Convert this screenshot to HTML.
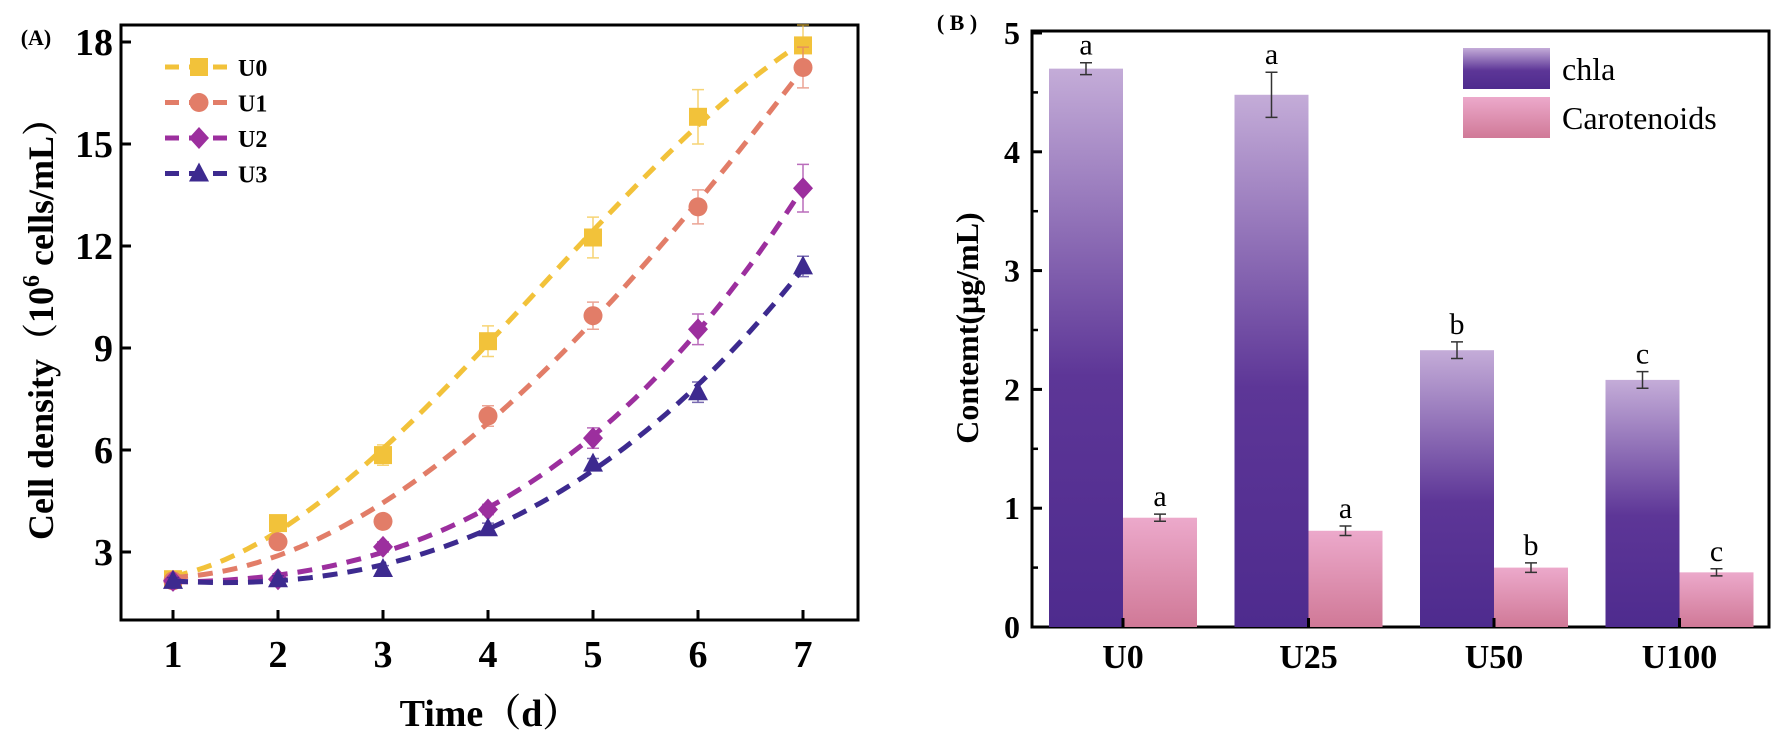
<!DOCTYPE html>
<html><head><meta charset="utf-8"><style>
html,body{margin:0;padding:0;background:#fff;}
svg{display:block;}
.tk{font-family:"Liberation Serif",serif;font-weight:bold;}
</style></head><body>
<svg id="root" width="1783" height="745" viewBox="0 0 1783 745" xmlns="http://www.w3.org/2000/svg">
<defs>
<linearGradient id="gChla" x1="0" y1="0" x2="0" y2="1"><stop offset="0" stop-color="#c4acd8"/><stop offset="0.55" stop-color="#5d3697"/><stop offset="1" stop-color="#4e2b8e"/></linearGradient>
<linearGradient id="gCar" x1="0" y1="0" x2="0" y2="1"><stop offset="0" stop-color="#eca9cb"/><stop offset="1" stop-color="#d07997"/></linearGradient>
</defs>
<g id="panelA"></g>
<g id="panelB"></g>
</svg>
<script>
// ---- Panel A data ----
const days = [1,2,3,4,5,6,7];
const seriesNames = ['U0','U1','U2','U3'];
const u0 = [2.2,3.85,5.85,9.2,12.25,15.8,17.9];
const u1 = [2.15,3.3,3.9,7.0,9.95,13.15,17.25];
const u2 = [2.15,2.2,3.15,4.25,6.35,9.55,13.7];
const u3 = [2.15,2.2,2.5,3.7,5.6,7.7,11.4];
const u0Err = [0.1,0.15,0.3,0.45,0.6,0.8,0.6];
const u1Err = [0.1,0.15,0.15,0.3,0.4,0.5,0.6];
const u2Err = [0.1,0.1,0.15,0.15,0.3,0.45,0.7];
const u3Err = [0.1,0.1,0.1,0.15,0.15,0.3,0.3];
const yTicksA = [3,6,9,12,15,18];
// ---- Panel B data ----
const groups = ['U0','U25','U50','U100'];
const chla = [4.7,4.48,2.33,2.08];
const chlaErr = [0.05,0.19,0.07,0.07];
const chlaSig = ['a','a','b','c'];
const carot = [0.92,0.81,0.50,0.46];
const carotErr = [0.03,0.04,0.04,0.03];
const carotSig = ['a','a','b','c'];
const yTicksB = [0,1,2,3,4,5];

const NS='http://www.w3.org/2000/svg';
function mk(parent,tag,attrs,text){const e=document.createElementNS(NS,tag);for(const k in attrs)e.setAttribute(k,attrs[k]);if(text!==undefined)e.textContent=text;parent.appendChild(e);return e;}

// polynomial least squares fit (degree 3)
function polyfit(xs,ys,deg){
  const n=deg+1;const M=[];for(let i=0;i<n;i++){M.push(new Array(n+1).fill(0));}
  for(let k=0;k<xs.length;k++){for(let i=0;i<n;i++){for(let j=0;j<n;j++)M[i][j]+=Math.pow(xs[k],i+j);M[i][n]+=ys[k]*Math.pow(xs[k],i);}}
  for(let i=0;i<n;i++){let p=i;for(let r=i+1;r<n;r++)if(Math.abs(M[r][i])>Math.abs(M[p][i]))p=r;[M[i],M[p]]=[M[p],M[i]];
    for(let r=0;r<n;r++){if(r===i)continue;const f=M[r][i]/M[i][i];for(let c=i;c<=n;c++)M[r][c]-=f*M[i][c];}}
  return M.map((row,i)=>row[n]/row[i]);
}

// ===== Panel A =====
const A=document.getElementById('panelA');
const aL=121,aR=858,aT=25,aB=620;
const xA=v=>173+105*(v-1);
const yA=v=>552-(v-3)*34.0;
const colors=['#f2c23a','#e27d68','#9c2f9e','#3d2a8f'];
const allY=[u0,u1,u2,u3], allE=[u0Err,u1Err,u2Err,u3Err];
const box=mk(A,'rect',{x:aL,y:aT,width:aR-aL,height:aB-aT,fill:'none',stroke:'#000','stroke-width':3});

yTicksA.forEach(t=>{
  const l=mk(A,'line',{x1:aL,x2:aL+10,y1:yA(t),y2:yA(t),stroke:'#000','stroke-width':3});
  
  const tx=mk(A,'text',{x:aL-8,y:yA(t)+13,'text-anchor':'end','font-size':38,class:'tk'},String(t));
  
});
days.forEach(d=>{
  const l=mk(A,'line',{x1:xA(d),x2:xA(d),y1:aB,y2:aB-10,stroke:'#000','stroke-width':3});
  
  const tx=mk(A,'text',{x:xA(d),y:667,'text-anchor':'middle','font-size':38,class:'tk'},String(d));
  
});
const xt=mk(A,'text',{x:490,y:726,'text-anchor':'middle','font-size':38,class:'tk'},'Time（d）');

xt.setAttribute('style','font-family:"Liberation Serif","Noto Serif CJK SC",serif');
const yt=mk(A,'text',{x:0,y:0,'text-anchor':'middle','font-size':36,class:'tk',transform:'translate(53,320) rotate(-90)'});

yt.setAttribute('style','font-family:"Liberation Serif","Noto Serif CJK SC",serif');
yt.innerHTML='Cell density（10<tspan dy="-14" font-size="24">6</tspan><tspan dy="14"> cells/mL）</tspan>';
const lbA=mk(A,'text',{x:36,y:45,'text-anchor':'middle','font-size':22,class:'tk'},'(A)');


function marker(g,i,x,y,c){
  let m;
  if(i===0)m=mk(g,'rect',{x:x-9,y:y-9,width:18,height:18,fill:c});
  else if(i===1)m=mk(g,'circle',{cx:x,cy:y,r:9.5,fill:c});
  else if(i===2)m=mk(g,'polygon',{points:`${x},${y-11} ${x+10},${y} ${x},${y+11} ${x-10},${y}`,fill:c});
  else m=mk(g,'polygon',{points:`${x},${y-11} ${x+10},${y+8} ${x-10},${y+8}`,fill:c});
  return m;
}
allY.forEach((vals,i)=>{
  const g=mk(A,'g',{});
  
  const co=polyfit(days,vals,3);
  let d='';
  for(let s=0;s<=60;s++){const xv=1+6*s/60;const yv=co[0]+co[1]*xv+co[2]*xv*xv+co[3]*xv*xv*xv;d+=(s?'L':'M')+xA(xv).toFixed(1)+','+yA(yv).toFixed(1);}
  const p=mk(g,'path',{d:d,fill:'none',stroke:colors[i],'stroke-width':5,'stroke-dasharray':'15 10'});
  
  days.forEach((dd,j)=>{
    const x=xA(dd),y1=yA(vals[j]+allE[i][j]),y2=yA(vals[j]-allE[i][j]);
    const e=mk(g,'path',{d:`M${x},${y1}V${y2}M${x-6},${y1}H${x+6}M${x-6},${y2}H${x+6}`,stroke:colors[i],'stroke-width':1.5,fill:'none',opacity:0.7});
    
    const m=marker(g,i,x,yA(vals[j]),colors[i]);
    
  });
  const ly=67+i*35.5;
  const lg=mk(A,'g',{});
  
  mk(lg,'path',{d:`M165,${ly}H233`,stroke:colors[i],'stroke-width':5,'stroke-dasharray':'14 10'});
  marker(lg,i,199,ly,colors[i]);
  mk(lg,'text',{x:238,y:ly+9,'font-size':24,class:'tk'},seriesNames[i]);
});

// ===== Panel B =====
const B=document.getElementById('panelB');
const bL=1032,bR=1769,bT=31,bB=627;
const yB=v=>bB-v*118.8;
const gStart=1049,gStep=185.5,bw=74;
const fb=mk(B,'rect',{x:bL,y:bT,width:bR-bL,height:bB-bT,fill:'none',stroke:'#000','stroke-width':3});

groups.forEach((g,i)=>{
  const x0=gStart+i*gStep;
  const r1=mk(B,'rect',{x:x0,y:yB(chla[i]),width:bw,height:bB-yB(chla[i]),fill:'url(#gChla)'});
  
  const r2=mk(B,'rect',{x:x0+bw,y:yB(carot[i]),width:bw,height:bB-yB(carot[i]),fill:'url(#gCar)'});
  
  [[x0+bw/2,chla[i],chlaErr[i],chlaSig[i]],[x0+bw*1.5,carot[i],carotErr[i],carotSig[i]]].forEach(([cx,v,e,s])=>{
    const t=yB(v+e),b=yB(v-e);
    const eb=mk(B,'path',{d:`M${cx},${t}V${b}M${cx-6},${t}H${cx+6}M${cx-6},${b}H${cx+6}`,stroke:'#333','stroke-width':1.5,fill:'none'});
    
    const st=mk(B,'text',{x:cx,y:t-8,'text-anchor':'middle','font-size':30,'font-family':'Liberation Serif, serif'},s);
    
  });
  const tk=mk(B,'line',{x1:x0+bw,x2:x0+bw,y1:bB,y2:bB-9,stroke:'#000','stroke-width':3});
  
  const lb=mk(B,'text',{x:x0+bw,y:668,'text-anchor':'middle','font-size':34,class:'tk'},g);
  
});
yTicksB.forEach(t=>{
  const l=mk(B,'line',{x1:bL,x2:bL+10,y1:yB(t),y2:yB(t),stroke:'#000','stroke-width':3});
  
  if(t<5){const m=mk(B,'line',{x1:bL,x2:bL+6,y1:yB(t+0.5),y2:yB(t+0.5),stroke:'#000','stroke-width':2.5});
  }
  const tx=mk(B,'text',{x:bL-12,y:yB(t)+11,'text-anchor':'end','font-size':32,class:'tk'},String(t));
  
});
const ytb=mk(B,'text',{x:0,y:0,'text-anchor':'middle','font-size':32,class:'tk',transform:'translate(978,328) rotate(-90)'},'Contemt(μg/mL)');

const lbB=mk(B,'text',{x:957,y:30,'text-anchor':'middle','font-size':22,class:'tk'},'( B )');

const l1=mk(B,'g',{});
mk(l1,'rect',{x:1463,y:48,width:87,height:41,fill:'url(#gChla)'});
mk(l1,'text',{x:1562,y:80,'font-size':32,'font-family':'Liberation Serif, serif'},'chla');
const l2=mk(B,'g',{});
mk(l2,'rect',{x:1463,y:97,width:87,height:41,fill:'url(#gCar)'});
mk(l2,'text',{x:1562,y:129,'font-size':32,'font-family':'Liberation Serif, serif'},'Carotenoids');
</script>
</body></html>
